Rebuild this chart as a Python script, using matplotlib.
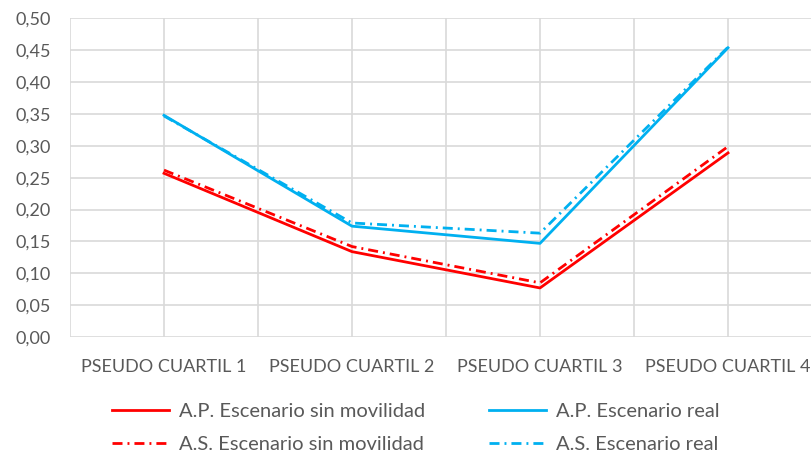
import matplotlib
matplotlib.use("Agg")
import matplotlib.pyplot as plt
from matplotlib.ticker import MultipleLocator, FuncFormatter

categories = ["PSEUDO CUARTIL 1", "PSEUDO CUARTIL 2", "PSEUDO CUARTIL 3", "PSEUDO CUARTIL 4"]
ap_sin = [0.257, 0.134, 0.077, 0.289]
as_sin = [0.262, 0.142, 0.085, 0.299]
ap_real = [0.348, 0.174, 0.147, 0.454]
as_real = [0.347, 0.179, 0.163, 0.455]

RED = "#ff0000"
BLUE = "#00b0f0"
TXT = "#595959"
GRID = "#d9d9d9"

plt.rcParams['font.family'] = ['Lato', 'DejaVu Sans']

fig = plt.figure(figsize=(8.12, 4.59), dpi=100)
ax = fig.add_axes([70/812, (459-337)/459, (822-70)/812, (337-18.5)/459])

x = list(range(len(categories)))
dashdot = (0, (3.6, 1.8, 0.7, 1.8))
lw = 2.0
l1, = ax.plot(x, ap_sin, color=RED, lw=lw, label="A.P. Escenario sin movilidad")
l2, = ax.plot(x, as_sin, color=RED, lw=lw, linestyle=dashdot, label="A.S. Escenario sin movilidad")
l3, = ax.plot(x, ap_real, color=BLUE, lw=lw, label="A.P. Escenario real")
l4, = ax.plot(x, as_real, color=BLUE, lw=lw, linestyle=dashdot, label="A.S. Escenario real")

ax.set_xlim(-0.5, 3.5)
ax.set_ylim(0, 0.5)
ax.yaxis.set_major_locator(MultipleLocator(0.05))
ax.yaxis.set_major_formatter(FuncFormatter(lambda v, p: f"{v:.2f}".replace(".", ",")))
ax.set_xticks(x)
ax.set_xticklabels(categories)
ax.set_xticks([i * 0.5 - 0.5 for i in range(9)], minor=True)

ax.grid(True, which='major', axis='y', color=GRID, lw=1.2)
ax.grid(True, which='both', axis='x', color=GRID, lw=1.2)
ax.set_axisbelow(True)
for s in ax.spines.values():
    s.set_visible(False)
ax.tick_params(axis='both', which='both', length=0, colors=TXT, labelsize=13)
ax.tick_params(axis='y', pad=14)
ax.tick_params(axis='x', pad=16)

fig.legend(handles=[l1, l2, l3, l4], ncol=2, loc='center', bbox_to_anchor=(416/812, 1 - 428/459),
           frameon=False, fontsize=14.5, labelcolor=TXT, handlelength=2.8, columnspacing=3.2,
           handletextpad=0.5, labelspacing=0.75)

fig.savefig("out.png", dpi=100)
